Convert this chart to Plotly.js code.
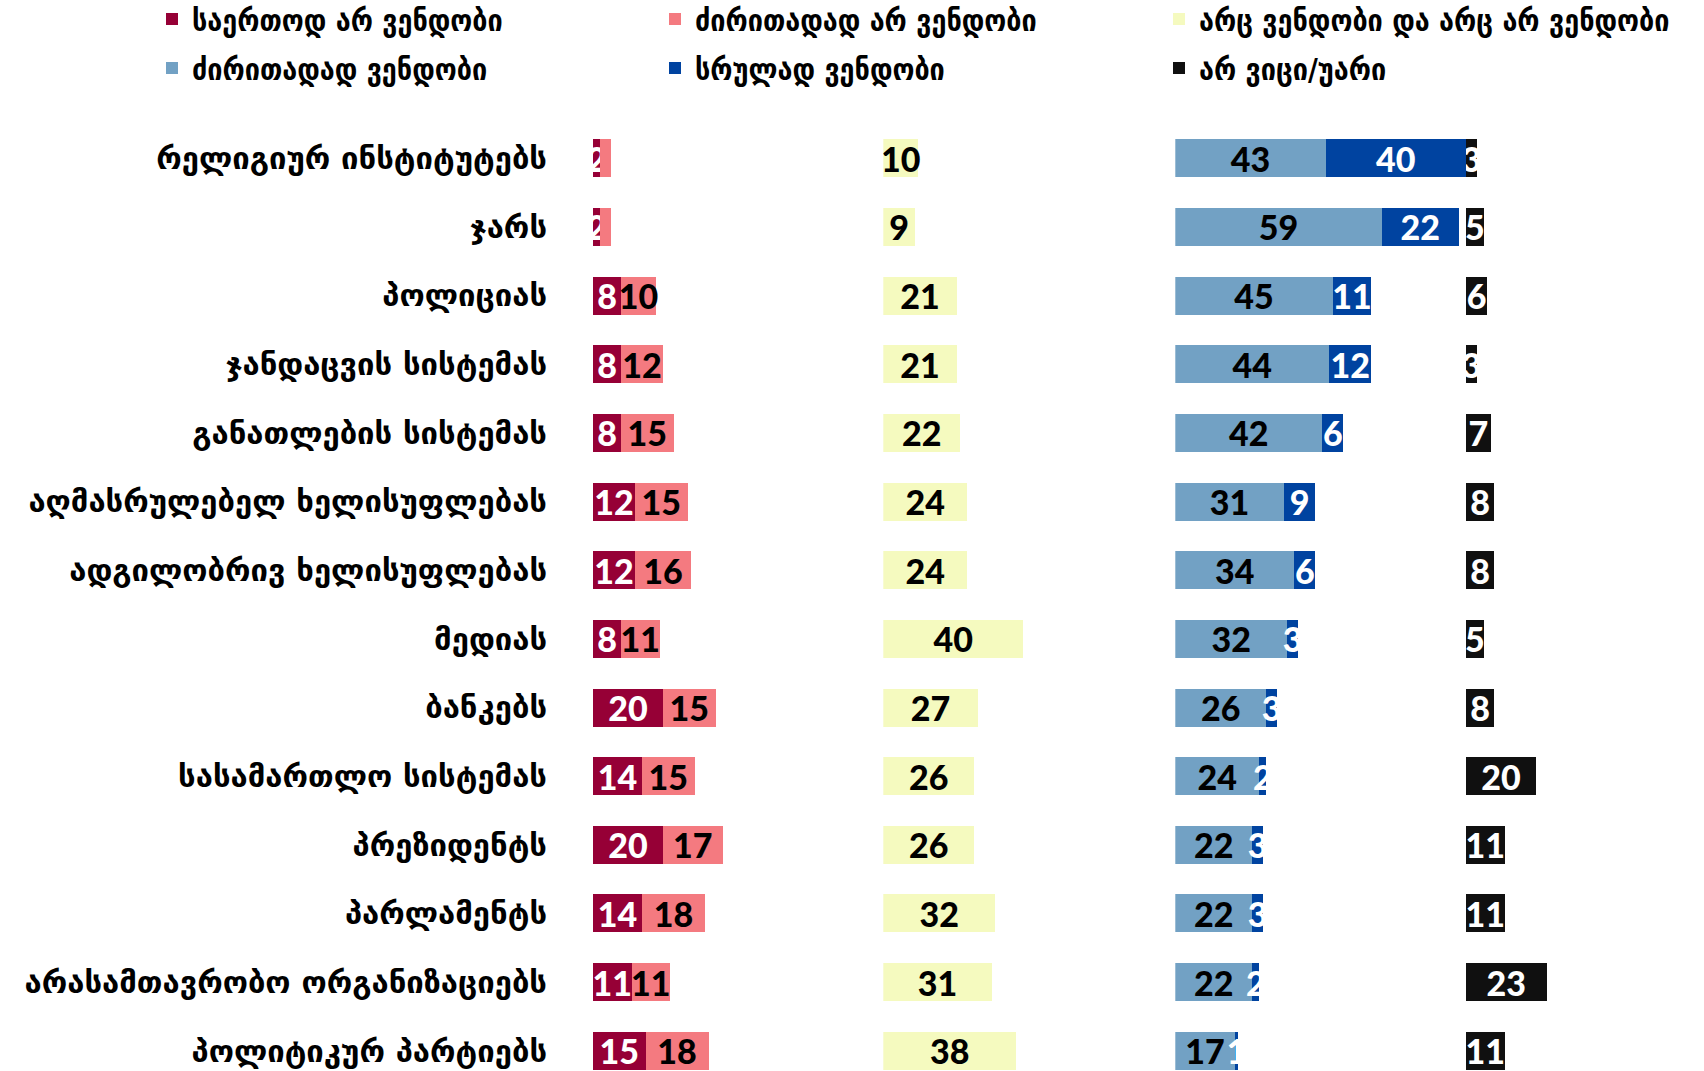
<!DOCTYPE html>
<html>
<head>
<meta charset="utf-8">
<script src="https://cdn.plot.ly/plotly-3.0.1.min.js"></script>
<style>html,body{margin:0;padding:0;background:#fff;}#chart{width:1704px;height:1071px;}</style>
</head>
<body>
<div id="chart"></div>
<script>
// ---- data ----
const categories = [
  "რელიგიურ ინსტიტუტებს",
  "ჯარს",
  "პოლიციას",
  "ჯანდაცვის სისტემას",
  "განათლების სისტემას",
  "აღმასრულებელ ხელისუფლებას",
  "ადგილობრივ ხელისუფლებას",
  "მედიას",
  "ბანკებს",
  "სასამართლო სისტემას",
  "პრეზიდენტს",
  "პარლამენტს",
  "არასამთავრობო ორგანიზაციებს",
  "პოლიტიკურ პარტიებს"
];
const seriesNames = [
  "საერთოდ არ ვენდობი",
  "ძირითადად არ ვენდობი",
  "არც ვენდობი და არც არ ვენდობი",
  "ძირითადად ვენდობი",
  "სრულად ვენდობი",
  "არ ვიცი/უარი"
];
const fullyDistrust  = [2, 2, 8, 8, 8, 12, 12, 8, 20, 14, 20, 14, 11, 15];
const mostlyDistrust = [3, 3, 10, 12, 15, 15, 16, 11, 15, 15, 17, 18, 11, 18];
const neutral        = [10, 9, 21, 21, 22, 24, 24, 40, 27, 26, 26, 32, 31, 38];
const mostlyTrust    = [43, 59, 45, 44, 42, 31, 34, 32, 26, 24, 22, 22, 22, 17];
const fullyTrust     = [40, 22, 11, 12, 6, 9, 6, 3, 3, 2, 3, 3, 2, 1];
const dontKnow       = [3, 5, 6, 3, 7, 8, 8, 5, 8, 20, 11, 11, 23, 11];

// ---- styling ----
const colors = ["#960036", "#F47A80", "#F5FABF", "#72A1C4", "#0043A0", "#101010"];
const textColors = ["#ffffff", "#000000", "#000000", "#000000", "#ffffff", "#ffffff"];

const W = 1704, H = 1071;
const ML = 593, MT = 124;
const PW = W - ML;            // plot width in px
const PX_PER_UNIT = 3.5;
// panel pixel bounds inside plot area
const panels = [[0, 290.3], [290.3, 582.3], [582.3, 873], [873, PW]];

const numFont = {family: "Lato, 'DejaVu Sans', sans-serif", size: 34, weight: 900};

const legendIds = ['legend', 'legend2', 'legend3', 'legend4', 'legend5', 'legend6'];

function mk(vals, idx, axis, labelMin) {
  return {
    type: 'bar', orientation: 'h',
    name: seriesNames[idx],
    y: categories, x: vals,
    xaxis: axis, yaxis: 'y',
    legend: legendIds[idx],
    marker: {color: colors[idx], line: {width: 0}},
    text: vals.map(v => v >= labelMin ? String(v) : ''),
    textposition: 'inside',
    insidetextanchor: 'middle',
    textangle: 0,
    constraintext: 'none',
    textfont: Object.assign({}, numFont, {color: textColors[idx]}),
    insidetextfont: Object.assign({}, numFont, {color: textColors[idx]}),
    hoverinfo: 'skip'
  };
}

const data = [
  mk(fullyDistrust, 0, 'x', 0),
  mk(mostlyDistrust, 1, 'x', 4),
  mk(neutral, 2, 'x2', 0),
  mk(mostlyTrust, 3, 'x3', 0),
  mk(fullyTrust, 4, 'x3', 0),
  mk(dontKnow, 5, 'x4', 0)
];

function xax(i) {
  const p = panels[i];
  return {
    domain: [p[0] / PW, p[1] / PW],
    range: [0, (p[1] - p[0]) / PX_PER_UNIT],
    visible: false, fixedrange: true, anchor: 'y'
  };
}

const rowPitch = 68.65;
const plotH = H - MT;
const yBottom = plotH / rowPitch - 0.5;

const legendFont = {family: "'DejaVu Sans Condensed', 'DejaVu Sans', sans-serif", size: 30, weight: 'bold', color: '#000'};
// legend grid: column x (px) and row y (px from top)
const legendCols = [152, 655, 1159];
const legendRows = [19, 68];

const layout = {
  width: W, height: H,
  margin: {l: ML, r: 0, t: MT, b: 0, pad: 0},
  paper_bgcolor: '#fff', plot_bgcolor: '#fff',
  barmode: 'stack',
  bargap: 0.447,
  showlegend: true,
  xaxis: xax(0), xaxis2: xax(1), xaxis3: xax(2), xaxis4: xax(3),
  yaxis: {
    type: 'category', categoryorder: 'array', categoryarray: categories,
    range: [yBottom, -0.5], anchor: 'x',
    showgrid: false, zeroline: false, showline: false,
    ticks: '', ticklabelstandoff: 45,
    tickfont: {family: "'DejaVu Sans', sans-serif", size: 31, weight: 'bold', color: '#000'},
    fixedrange: true
  },
  font: {family: "'DejaVu Sans', sans-serif", color: '#000'}
};

legendIds.forEach((id, i) => {
  layout[id] = {
    orientation: 'h', xref: 'container', yref: 'container',
    x: legendCols[i % 3] / W, y: 1 - legendRows[Math.floor(i / 3)] / H,
    xanchor: 'left', yanchor: 'middle',
    font: legendFont, itemclick: false, bgcolor: 'rgba(0,0,0,0)'
  };
});

Plotly.newPlot('chart', data, layout, {staticPlot: true, displayModeBar: false});
</script>
</body>
</html>
